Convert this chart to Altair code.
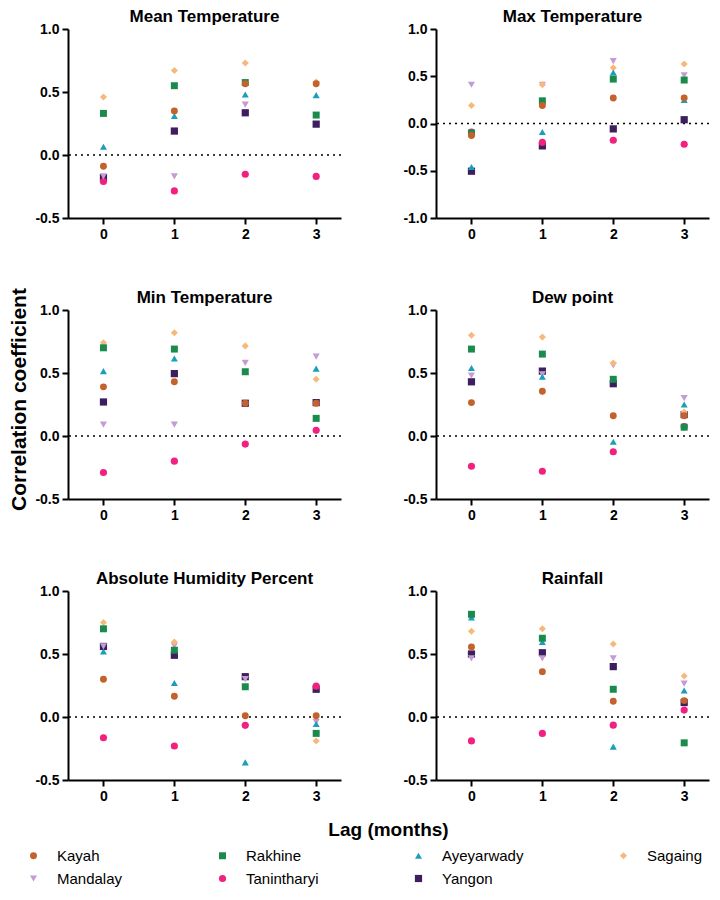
import altair as alt
import pandas as pd

lags = [0, 1, 2, 3]
regions = ["Kayah", "Rakhine", "Ayeyarwady", "Sagaing", "Mandalay", "Tanintharyi", "Yangon"]
draw_order = ["Yangon", "Tanintharyi", "Mandalay", "Sagaing", "Ayeyarwady", "Rakhine", "Kayah"]
colors = ["#C4622D", "#1A8B4C", "#1B9EBA", "#F7B87C", "#C49CD4", "#F0217F", "#3D1E5E"]
shapes = ["circle", "square", "triangle-up", "diamond", "triangle-down", "circle", "square"]
sizes = [48, 52, 58, 70, 65, 60, 30]

mean_temp = {
    "Kayah": [-0.09, 0.35, 0.565, 0.565],
    "Rakhine": [0.33, 0.55, 0.575, 0.317],
    "Ayeyarwady": [0.066, 0.31, 0.48, 0.475],
    "Sagaing": [0.46, 0.67, 0.73, 0.58],
    "Mandalay": [-0.17, -0.17, 0.40, 0.56],
    "Tanintharyi": [-0.21, -0.285, -0.153, -0.17],
    "Yangon": [-0.18, 0.19, 0.335, 0.245],
}
max_temp = {
    "Kayah": [-0.127, 0.19, 0.27, 0.27],
    "Rakhine": [-0.10, 0.24, 0.47, 0.46],
    "Ayeyarwady": [-0.46, -0.09, 0.54, 0.25],
    "Sagaing": [0.19, 0.41, 0.59, 0.63],
    "Mandalay": [0.41, 0.41, 0.66, 0.51],
    "Tanintharyi": [-0.09, -0.20, -0.177, -0.22],
    "Yangon": [-0.505, -0.237, -0.057, 0.04],
}
min_temp = {
    "Kayah": [0.39, 0.43, 0.26, 0.26],
    "Rakhine": [0.70, 0.69, 0.51, 0.14],
    "Ayeyarwady": [0.515, 0.615, 0.51, 0.535],
    "Sagaing": [0.74, 0.82, 0.715, 0.45],
    "Mandalay": [0.09, 0.09, 0.58, 0.63],
    "Tanintharyi": [-0.29, -0.20, -0.064, 0.045],
    "Yangon": [0.27, 0.495, 0.26, 0.265],
}
dew_point = {
    "Kayah": [0.265, 0.355, 0.16, 0.16],
    "Rakhine": [0.69, 0.65, 0.45, 0.07],
    "Ayeyarwady": [0.54, 0.47, -0.045, 0.25],
    "Sagaing": [0.80, 0.785, 0.58, 0.19],
    "Mandalay": [0.48, 0.49, 0.56, 0.30],
    "Tanintharyi": [-0.24, -0.28, -0.125, 0.075],
    "Yangon": [0.43, 0.515, 0.415, 0.17],
}
abs_humidity = {
    "Kayah": [0.30, 0.165, 0.01, 0.01],
    "Rakhine": [0.70, 0.53, 0.24, -0.13],
    "Ayeyarwady": [0.52, 0.27, -0.36, -0.055],
    "Sagaing": [0.75, 0.595, 0.24, -0.19],
    "Mandalay": [0.56, 0.565, 0.30, -0.04],
    "Tanintharyi": [-0.165, -0.23, -0.066, 0.245],
    "Yangon": [0.56, 0.49, 0.32, 0.22],
}
rainfall = {
    "Kayah": [0.555, 0.36, 0.125, 0.13],
    "Rakhine": [0.815, 0.625, 0.22, -0.205],
    "Ayeyarwady": [0.79, 0.595, -0.235, 0.21],
    "Sagaing": [0.68, 0.70, 0.58, 0.325],
    "Mandalay": [0.465, 0.465, 0.465, 0.265],
    "Tanintharyi": [-0.19, -0.13, -0.065, 0.055],
    "Yangon": [0.50, 0.51, 0.40, 0.115],
}

panels = [
    ("Mean Temperature", mean_temp, [-0.5, 1.0], [-0.5, 0.0, 0.5, 1.0]),
    ("Max Temperature", max_temp, [-1.0, 1.0], [-1.0, -0.5, 0.0, 0.5, 1.0]),
    ("Min Temperature", min_temp, [-0.5, 1.0], [-0.5, 0.0, 0.5, 1.0]),
    ("Dew point", dew_point, [-0.5, 1.0], [-0.5, 0.0, 0.5, 1.0]),
    ("Absolute Humidity Percent", abs_humidity, [-0.5, 1.0], [-0.5, 0.0, 0.5, 1.0]),
    ("Rainfall", rainfall, [-0.5, 1.0], [-0.5, 0.0, 0.5, 1.0]),
]

FONT = "Liberation Sans"
PW, PH = 273, 189
LABEL_EXPR = "replace(format(datum.value, '.1f'), '\u2212', '-')"


def panel(idx, title, values, domain, ticks):
    rows = []
    for r in draw_order:
        for lag, v in zip(lags, values[r]):
            rows.append({"region": r, "lag": lag, "r": v})
    df = pd.DataFrame(rows)

    xaxis = dict(values=lags, format="d", title=None)
    if idx == 4:
        xaxis.update(title="Lag (months)", titleX=320, titleY=49, titleAlign="center",
                     titleBaseline="middle", titleFontSize=19)
    yaxis = dict(values=ticks, labelExpr=LABEL_EXPR, title=None)
    if idx == 0:
        yaxis.update(title="Correlation coefficient", titleX=-49, titleY=370, titleAngle=270,
                     titleAlign="center", titleBaseline="middle", titleFontSize=21)

    yscale = alt.Scale(domain=domain, nice=False, zero=False)
    zero = alt.Chart(pd.DataFrame({"z": [0.0]})).mark_rule(
        color="black", strokeDash=[2, 4], strokeWidth=1.6
    ).encode(y=alt.Y("z:Q", scale=yscale, axis=alt.Axis(**yaxis)))
    pts = alt.Chart(df).mark_point(filled=True, opacity=1, strokeWidth=0).encode(
        x=alt.X("lag:Q", scale=alt.Scale(domain=[-0.5, 3.35], nice=False, zero=False),
                axis=alt.Axis(**xaxis)),
        y=alt.Y("r:Q", scale=yscale, axis=alt.Axis(**yaxis)),
        color=alt.Color("region:N", scale=alt.Scale(domain=regions, range=colors), title=None),
        shape=alt.Shape("region:N", scale=alt.Scale(domain=regions, range=shapes), title=None),
        size=alt.Size("region:N", scale=alt.Scale(domain=regions, range=sizes), title=None),
    )
    return alt.layer(zero, pts).properties(
        width=PW, height=PH,
        title=alt.TitleParams(title, fontSize=17, fontWeight="bold", font=FONT, color="black",
                              offset=-4, frame="group"),
    )


charts = [panel(i, *p) for i, p in enumerate(panels)]

chart = alt.concat(
    *charts, columns=2, bounds="flush", spacing={"row": 92, "column": 95}
).resolve_scale(x="independent", y="independent").configure_view(
    stroke=None
).configure_axis(
    grid=False, domainColor="black", domainWidth=2, tickColor="black", tickWidth=2, tickSize=6,
    labelFont=FONT, labelFontWeight="bold", labelFontSize=14, labelColor="black", labelPadding=3,
    titleFont=FONT, titleFontWeight="bold", titleColor="black",
).configure_legend(
    orient="none", legendX=-42, legendY=819, direction="horizontal", columns=4,
    labelFont=FONT, labelFontSize=15, labelColor="black", labelOffset=16,
    columnPadding=92, rowPadding=7, gridAlign="each", symbolSize=55, labelLimit=200,
).properties(padding={"left": 0, "top": 0, "right": 0, "bottom": 0})

chart.save("out.html", embed_options={"renderer": "svg", "actions": False})
